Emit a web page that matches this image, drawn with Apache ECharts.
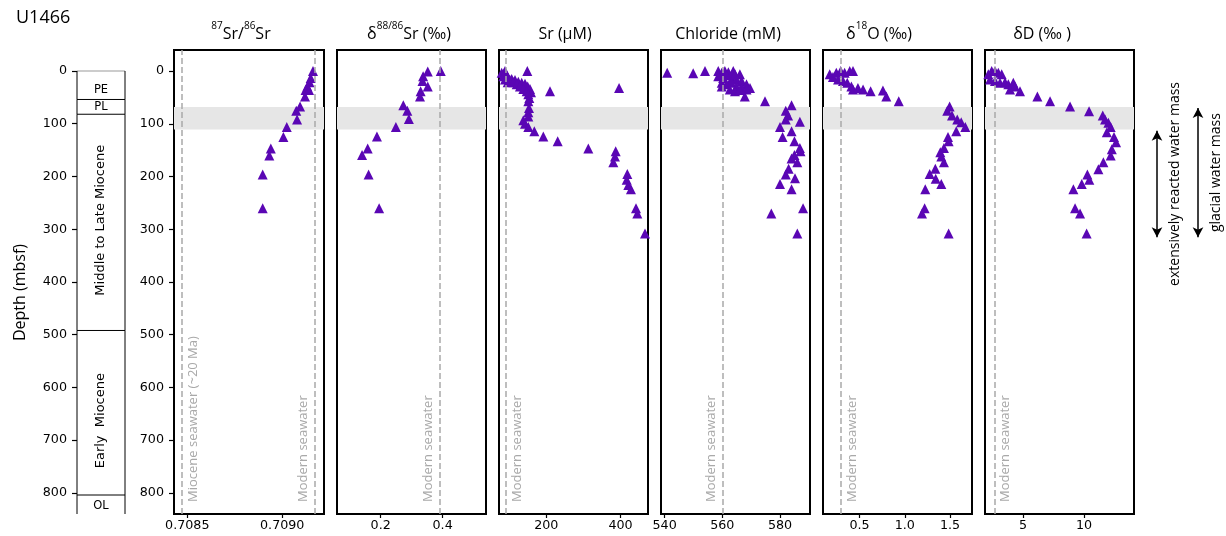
<!DOCTYPE html>
<html lang="en">
<head>
<meta charset="UTF-8">
<title>U1466 pore water profiles</title>
<script src="https://cdn.jsdelivr.net/npm/echarts@6/dist/echarts.min.js"></script>
<style>
    html, body, #chart {
        width: 100%;
        height: 100%;
        margin: 0;
        padding: 0;
        background: #fff;
    }
</style>
</head>
<body>
<div id="chart"></div>
<script>
    // stratigraphic column (mbsf)
    var unitNames = ["PE", "PL", "Middle to Late Miocene", "Early  Miocene", "OL"];
    var unitTop = [0, 54, 82, 492, 804];
    var unitBase = [54, 82, 492, 804, 840];
    var unitLabelDepth = [37, 68, 283, 663, 825];

    var depthTicks = [0, 100, 200, 300, 400, 500, 600, 700, 800];
    var bandDepth = [68, 111];

    // 87Sr/86Sr
    var srIsoDepth = [0, 13, 21, 29, 36, 36, 48, 67, 75, 92, 106, 125, 147, 160, 196, 260];
    var srIsoValue = [0.709162, 0.709150, 0.709144, 0.709132, 0.709123, 0.709141, 0.709120, 0.709094,
        0.709074, 0.709078, 0.709024, 0.709006, 0.708940, 0.708932, 0.708897, 0.708897];

    // d88/86Sr
    var d88Depth = [0, 1, 10, 19, 29, 38, 48, 65, 75, 91, 106, 124, 147, 159, 196, 260];
    var d88Value = [0.394, 0.352, 0.337, 0.335, 0.352, 0.329, 0.327, 0.273, 0.286, 0.291, 0.249,
        0.188, 0.158, 0.140, 0.161, 0.195];

    // Sr (uM)
    var srDepth = [0, 3, 8, 13, 15, 17, 20, 22, 24, 29, 34, 40, 0, 38, 32, 3, 10, 16, 21, 17, 21, 25,
        29, 34, 38, 44, 51, 57, 70, 78, 86, 93, 100, 106, 114, 124, 133, 147, 152, 162, 173, 195, 206,
        216, 224, 260, 270, 308];
    var srValue = [88.7, 86.8, 93.2, 97.6, 106.7, 115.6, 124.6, 133.6, 142.6, 149.8, 156, 158.7, 148.8,
        210, 396, 79.8, 84.1, 88.7, 95.9, 102.1, 111, 120.2, 129, 138, 147.1, 151.5, 154.2, 151.5, 153.3,
        151.5, 151.5, 138, 142.6, 151.5, 167.7, 191.9, 230.7, 313.2, 387, 385, 380.6, 418.3, 416.6, 421,
        428, 441.7, 445.2, 466];

    // Chloride (mM)
    var clDepth = [3, 4, 0, 0, 3, 0, 2, 10, 13, 8, 0, 6, 15, 16, 19, 25, 32, 22, 25, 22, 29, 32, 35, 38,
        36, 35, 48, 29, 6, 57, 65, 75, 84, 92, 96, 106, 114, 125, 133, 146, 152, 159, 166, 173, 185, 196,
        203, 214, 224, 260, 270, 308];
    var clValue = [540.9, 549.9, 554, 558.6, 559.8, 560.9, 562.1, 558.6, 560.3, 561.5, 563.8, 566.1,
        563.2, 564.9, 566.7, 568.4, 569.6, 559.8, 561.5, 563.2, 564.9, 566.7, 562.6, 564.4, 566.1, 568.4,
        567.8, 559.8, 564.4, 574.8, 584, 582, 582.8, 582, 586.9, 580, 584, 580.9, 585, 586.9, 587.1, 585,
        584, 586, 583, 582, 585.2, 580, 584, 588, 577, 586];

    // d18O (permil)
    var d18Depth = [6, 11, 3, 0, 3, 0, 0, 16, 19, 22, 29, 35, 32, 35, 38, 37, 48, 57, 67, 75, 84, 92,
        97, 106, 114, 125, 133, 146, 154, 162, 173, 185, 195, 204, 214, 224, 260, 270, 308];
    var d18Value = [0.171, 0.207, 0.244, 0.292, 0.336, 0.392, 0.428, 0.263, 0.318, 0.365, 0.410, 0.428,
        0.483, 0.539, 0.623, 0.759, 0.796, 0.933, 1.495, 1.469, 1.521, 1.579, 1.623, 1.668, 1.568, 1.477,
        1.484, 1.432, 1.392, 1.403, 1.432, 1.337, 1.275, 1.341, 1.403, 1.226, 1.219, 1.190, 1.484];

    // dD (permil)
    var dDDepth = [6, 0, 0, 3, 6, 16, 19, 22, 21, 25, 22, 35, 29, 38, 48, 57, 67, 76, 84, 92, 98, 106,
        116, 125, 135, 148, 160, 173, 186, 196, 206, 214, 224, 260, 270, 308];
    var dDValue = [2.16, 2.44, 2.71, 2.98, 3.26, 2.30, 2.71, 3.12, 3.53, 3.80, 4.21, 3.94, 4.35, 4.76,
        6.18, 7.22, 8.86, 10.42, 11.54, 11.73, 12.0, 12.19, 11.87, 12.46, 12.63, 12.28, 12.19, 11.59,
        11.18, 10.28, 10.44, 9.82, 9.13, 9.27, 9.68, 10.22];

    // water mass ranges (mbsf)
    var waterMassNames = ["extensively reacted water mass", "glacial water mass"];
    var waterMassTop = [113, 70];
    var waterMassBase = [315, 315];

    function zip(a, b) {
        return a.map(function (v, i) { return [b[i], v]; });
    }

    var tickFont = "DejaVu Sans";
    var textFont = "Open Sans";
    var markColor = "#5a06b4";
    var refColor = "#a9a9a9";

    var panels = [
        {data: zip(srIsoDepth, srIsoValue), min: 0.70843, max: 0.70922, ticks: [0.7085, 0.7090], digits: 4,
            refs: [[0.70847, "Miocene seawater (~20 Ma)", "right"], [0.70917, "Modern seawater", "left"]],
            title: "{sup|87}{t|Sr/}{sup|86}{t|Sr}", titleX: 241},
        {data: zip(d88Depth, d88Value), min: 0.059, max: 0.540, ticks: [0.2, 0.4], digits: 1,
            refs: [[0.39, "Modern seawater", "left"]],
            title: "{t|δ}{sup|88/86}{t|Sr (‰)}", titleX: 409},
        {data: zip(srDepth, srValue), min: 72.5, max: 474, ticks: [200, 400], digits: 0,
            refs: [[90, "Modern seawater", "right"]],
            title: "{t|Sr (µM)}", titleX: 565},
        {data: zip(clDepth, clValue), min: 538.75, max: 590.4, ticks: [540, 560, 580], digits: 0,
            refs: [[560, "Modern seawater", "left"]],
            title: "{t|Chloride (mM)}", titleX: 728},
        {data: zip(d18Depth, d18Value), min: 0.097, max: 1.742, ticks: [0.5, 1.0, 1.5], digits: 1,
            refs: [[0.29, "Modern seawater", "right"]],
            title: "{t|δ}{sup|18}{t|O (‰)}", titleX: 879},
        {data: zip(dDDepth, dDValue), min: 1.89, max: 14.1, ticks: [5, 10], digits: 0,
            refs: [[2.65, "Modern seawater", "right"]],
            title: "{t|δD (‰ )}", titleX: 1042}
    ];
    var panelLeft = [174, 337, 499, 661, 823, 985];
    var panelWidth = [150, 149, 149, 149, 149, 149];

    var grids = [{left: 77, top: 71, width: 48, height: 443, outerBoundsMode: "none"}];
    var xAxes = [{gridIndex: 0, type: "value", min: 0, max: 1, show: false}];
    var yAxes = [{
        gridIndex: 0, type: "value", min: 0, max: 840, inverse: true,
        name: "Depth (mbsf)", nameLocation: "middle", nameRotate: 90, nameGap: 49,
        nameTextStyle: {fontFamily: textFont, fontSize: 16, color: "#000"},
        axisLine: {show: false, onZero: false},
        axisTick: {show: true, length: 5, lineStyle: {color: "#000", width: 1.2}, customValues: depthTicks},
        axisLabel: {customValues: depthTicks, color: "#000", fontFamily: tickFont, fontSize: 12.7, margin: 10},
        splitLine: {show: false}
    }];
    var titles = [{text: "U1466", left: 16, top: 9, padding: 0,
        textStyle: {fontFamily: textFont, fontSize: 18, fontWeight: "normal", color: "#000"}}];

    var series = [{
        type: "custom",
        xAxisIndex: 0,
        yAxisIndex: 0,
        silent: true,
        data: unitTop.map(function (t, i) { return [t, unitBase[i], unitLabelDepth[i]]; }),
        renderItem: function (params, api) {
            var i = params.dataIndex;
            var a = api.coord([0, api.value(0)]);
            var b = api.coord([1, api.value(1)]);
            var c = api.coord([0.5, api.value(2)]);
            var tall = unitNames[i].length > 4;
            return {
                type: "group",
                children: [
                    {type: "line", shape: {x1: a[0], y1: a[1], x2: b[0], y2: a[1]},
                        style: {stroke: i === 0 ? "#999" : "#000", lineWidth: 1}},
                    {type: "line", shape: {x1: a[0], y1: a[1], x2: a[0], y2: b[1]},
                        style: {stroke: "#000", lineWidth: 1}},
                    {type: "line", shape: {x1: b[0], y1: a[1], x2: b[0], y2: b[1]},
                        style: {stroke: "#000", lineWidth: 1}},
                    {type: "text", x: c[0], y: c[1], rotation: tall ? Math.PI / 2 : 0,
                        style: {text: unitNames[i], align: "center", verticalAlign: "middle",
                            fontFamily: tickFont, fontSize: tall ? 13 : 11.5, fill: "#000"}}
                ]
            };
        }
    }];

    panels.forEach(function (p, k) {
        var gi = k + 1;
        grids.push({left: panelLeft[k], top: 50, width: panelWidth[k], height: 464, show: true,
            borderColor: "#000", borderWidth: 2, outerBoundsMode: "none"});
        xAxes.push({
            gridIndex: gi, type: "value", min: p.min, max: p.max, position: "bottom",
            axisLine: {show: false, onZero: false},
            splitLine: {show: false},
            axisTick: {show: true, length: 4, lineStyle: {color: "#000", width: 1.2}, customValues: p.ticks},
            axisLabel: {customValues: p.ticks, color: "#000", fontFamily: tickFont, fontSize: 12.7, margin: 5,
                formatter: function (v) { return v.toFixed(p.digits); }}
        });
        yAxes.push({
            gridIndex: gi, type: "value", min: -40, max: 840, inverse: true, position: "left",
            axisLine: {show: false, onZero: false},
            splitLine: {show: false},
            axisTick: {show: k === 0, length: 5, lineStyle: {color: "#000", width: 1.2}, customValues: depthTicks},
            axisLabel: {show: k === 0, customValues: depthTicks, color: "#000", fontFamily: tickFont,
                fontSize: 12.7, margin: 10}
        });
        titles.push({
            text: p.title, left: p.titleX, top: 21, textAlign: "center", padding: 0,
            textStyle: {
                fontWeight: "normal",
                rich: {
                    t: {fontFamily: textFont, fontSize: 16, fontWeight: "normal", color: "#000",
                        lineHeight: 21, verticalAlign: "bottom"},
                    sup: {fontFamily: textFont, fontSize: 10, fontWeight: "normal", color: "#000",
                        lineHeight: 13, verticalAlign: "top"}
                }
            }
        });
        series.push({
            type: "scatter",
            xAxisIndex: gi,
            yAxisIndex: gi,
            symbol: "triangle",
            symbolSize: 10,
            itemStyle: {color: markColor, opacity: 1},
            silent: true,
            data: p.data,
            markArea: {
                silent: true,
                itemStyle: {color: "#e6e6e6"},
                data: [[{yAxis: bandDepth[0]}, {yAxis: bandDepth[1]}]]
            },
            markLine: {
                silent: true,
                symbol: "none",
                lineStyle: {color: refColor, type: [6, 3], width: 1.5},
                data: p.refs.map(function (r) {
                    return [
                        {coord: [r[0], 840], label: {show: true, formatter: r[1],
                            position: r[2] === "right" ? "insideStartBottom" : "insideStartTop",
                            distance: [12, 5], color: refColor, fontFamily: textFont, fontSize: 13}},
                        {coord: [r[0], -40]}
                    ];
                })
            }
        });
    });

    // water mass arrows on the right
    grids.push({left: 1140, top: 50, width: 80, height: 464, outerBoundsMode: "none"});
    xAxes.push({gridIndex: 7, type: "value", min: 0, max: 1, show: false});
    yAxes.push({gridIndex: 7, type: "value", min: -40, max: 840, inverse: true, show: false});
    var arrowX = [0.2125, 0.725];
    series.push({
        type: "scatter",
        xAxisIndex: 7,
        yAxisIndex: 7,
        data: [],
        markLine: {
            silent: true,
            symbol: ["arrow", "arrow"],
            symbolSize: [8, 10],
            lineStyle: {color: "#000", type: "solid", width: 1.5},
            data: waterMassNames.map(function (n, i) {
                return [
                    {coord: [arrowX[i], waterMassBase[i]], label: {show: true, formatter: n,
                        position: "insideMiddleBottom", distance: [0, 11], color: "#000",
                        fontFamily: textFont, fontSize: 14}},
                    {coord: [arrowX[i], waterMassTop[i]]}
                ];
            })
        }
    });

    var chart = echarts.init(document.getElementById("chart"));
    chart.setOption({
        animation: false,
        backgroundColor: "#fff",
        title: titles,
        grid: grids,
        xAxis: xAxes,
        yAxis: yAxes,
        series: series
    });
</script>
</body>
</html>
